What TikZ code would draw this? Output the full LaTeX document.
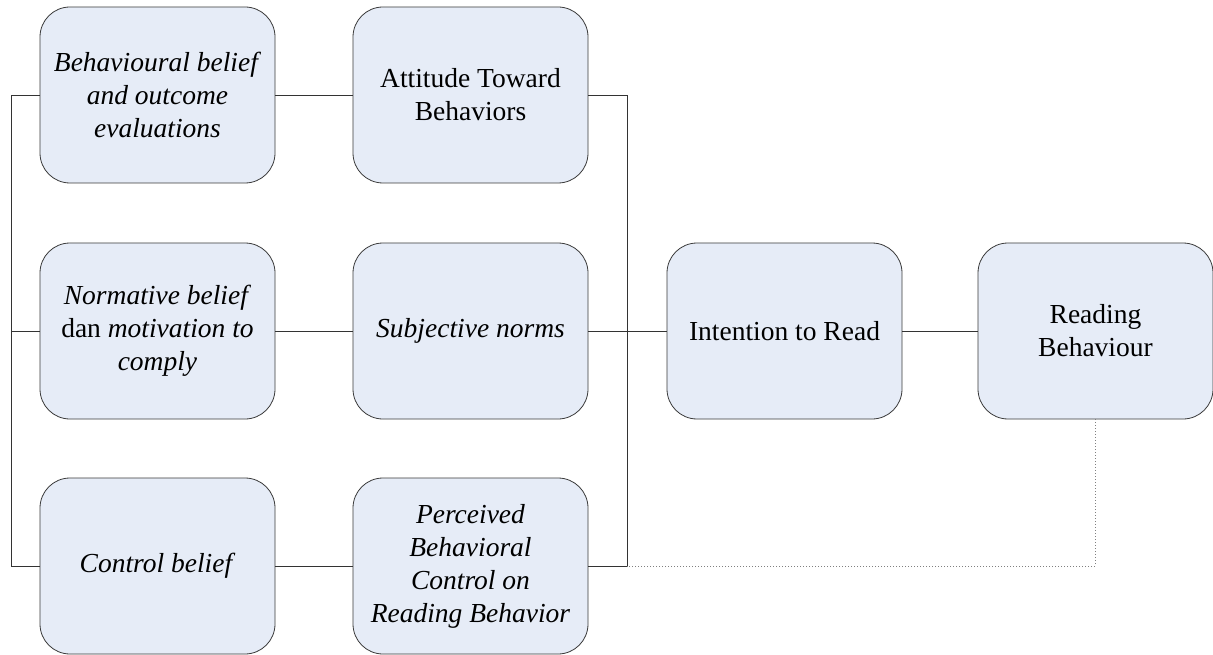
\documentclass[tikz,border=0pt]{standalone}
\usepackage{fontspec}
\setmainfont{Liberation Serif}
\definecolor{boxfill}{HTML}{E6ECF7}
\definecolor{boxline}{HTML}{3A3A3A}
\begin{document}
\begin{tikzpicture}[x=1pt,y=-1pt,
  box/.style={draw=boxline, line width=0.8pt, fill=boxfill, rounded corners=30pt,
    minimum width=235pt, minimum height=176pt, align=center, inner sep=0pt,
    font=\rmfamily\fontsize{27.5}{33}\selectfont},
  conn/.style={draw=black!80, line width=0.8pt},
  dot/.style={draw=black!50, line width=1pt, dotted}]
\useasboundingbox (0,0) rectangle (1213,655);
\node[box] (A) at (157.5,95) {\textit{Behavioural belief}\\\textit{and outcome}\\\textit{evaluations}};
\node[box] (B) at (470.5,95) {Attitude Toward\\Behaviors};
\node[box] (C) at (157.5,331) {\textit{Normative belief}\\dan \textit{motivation to}\\\textit{comply}};
\node[box] (D) at (470.5,331) {\textit{Subjective norms}};
\node[box] (E) at (784.5,331) {Intention to Read};
\node[box] (F) at (1095.5,331) {Reading\\Behaviour};
\node[box] (G) at (157.5,566) {\textit{Control belief}};
\node[box] (H) at (470.5,566) {\textit{Perceived}\\\textit{Behavioral}\\\textit{Control on}\\\textit{Reading Behavior}};
\coordinate (L) at (11,0);
\coordinate (R) at (627,0);
\draw[conn] (A.west) -- (A.west -| L) -- (G.west -| L) -- (G.west);
\draw[conn] (C.west) -- (C.west -| L);
\draw[conn] (A) -- (B);
\draw[conn] (C) -- (D);
\draw[conn] (G) -- (H);
\draw[conn] (B.east) -- (B.east -| R) -- (H.east -| R) -- (H.east);
\draw[conn] (D) -- (E);
\draw[conn] (E) -- (F);
\draw[dot] (F.south) -- (F.south |- H.east) -- (H.east -| R);
\end{tikzpicture}
\end{document}
